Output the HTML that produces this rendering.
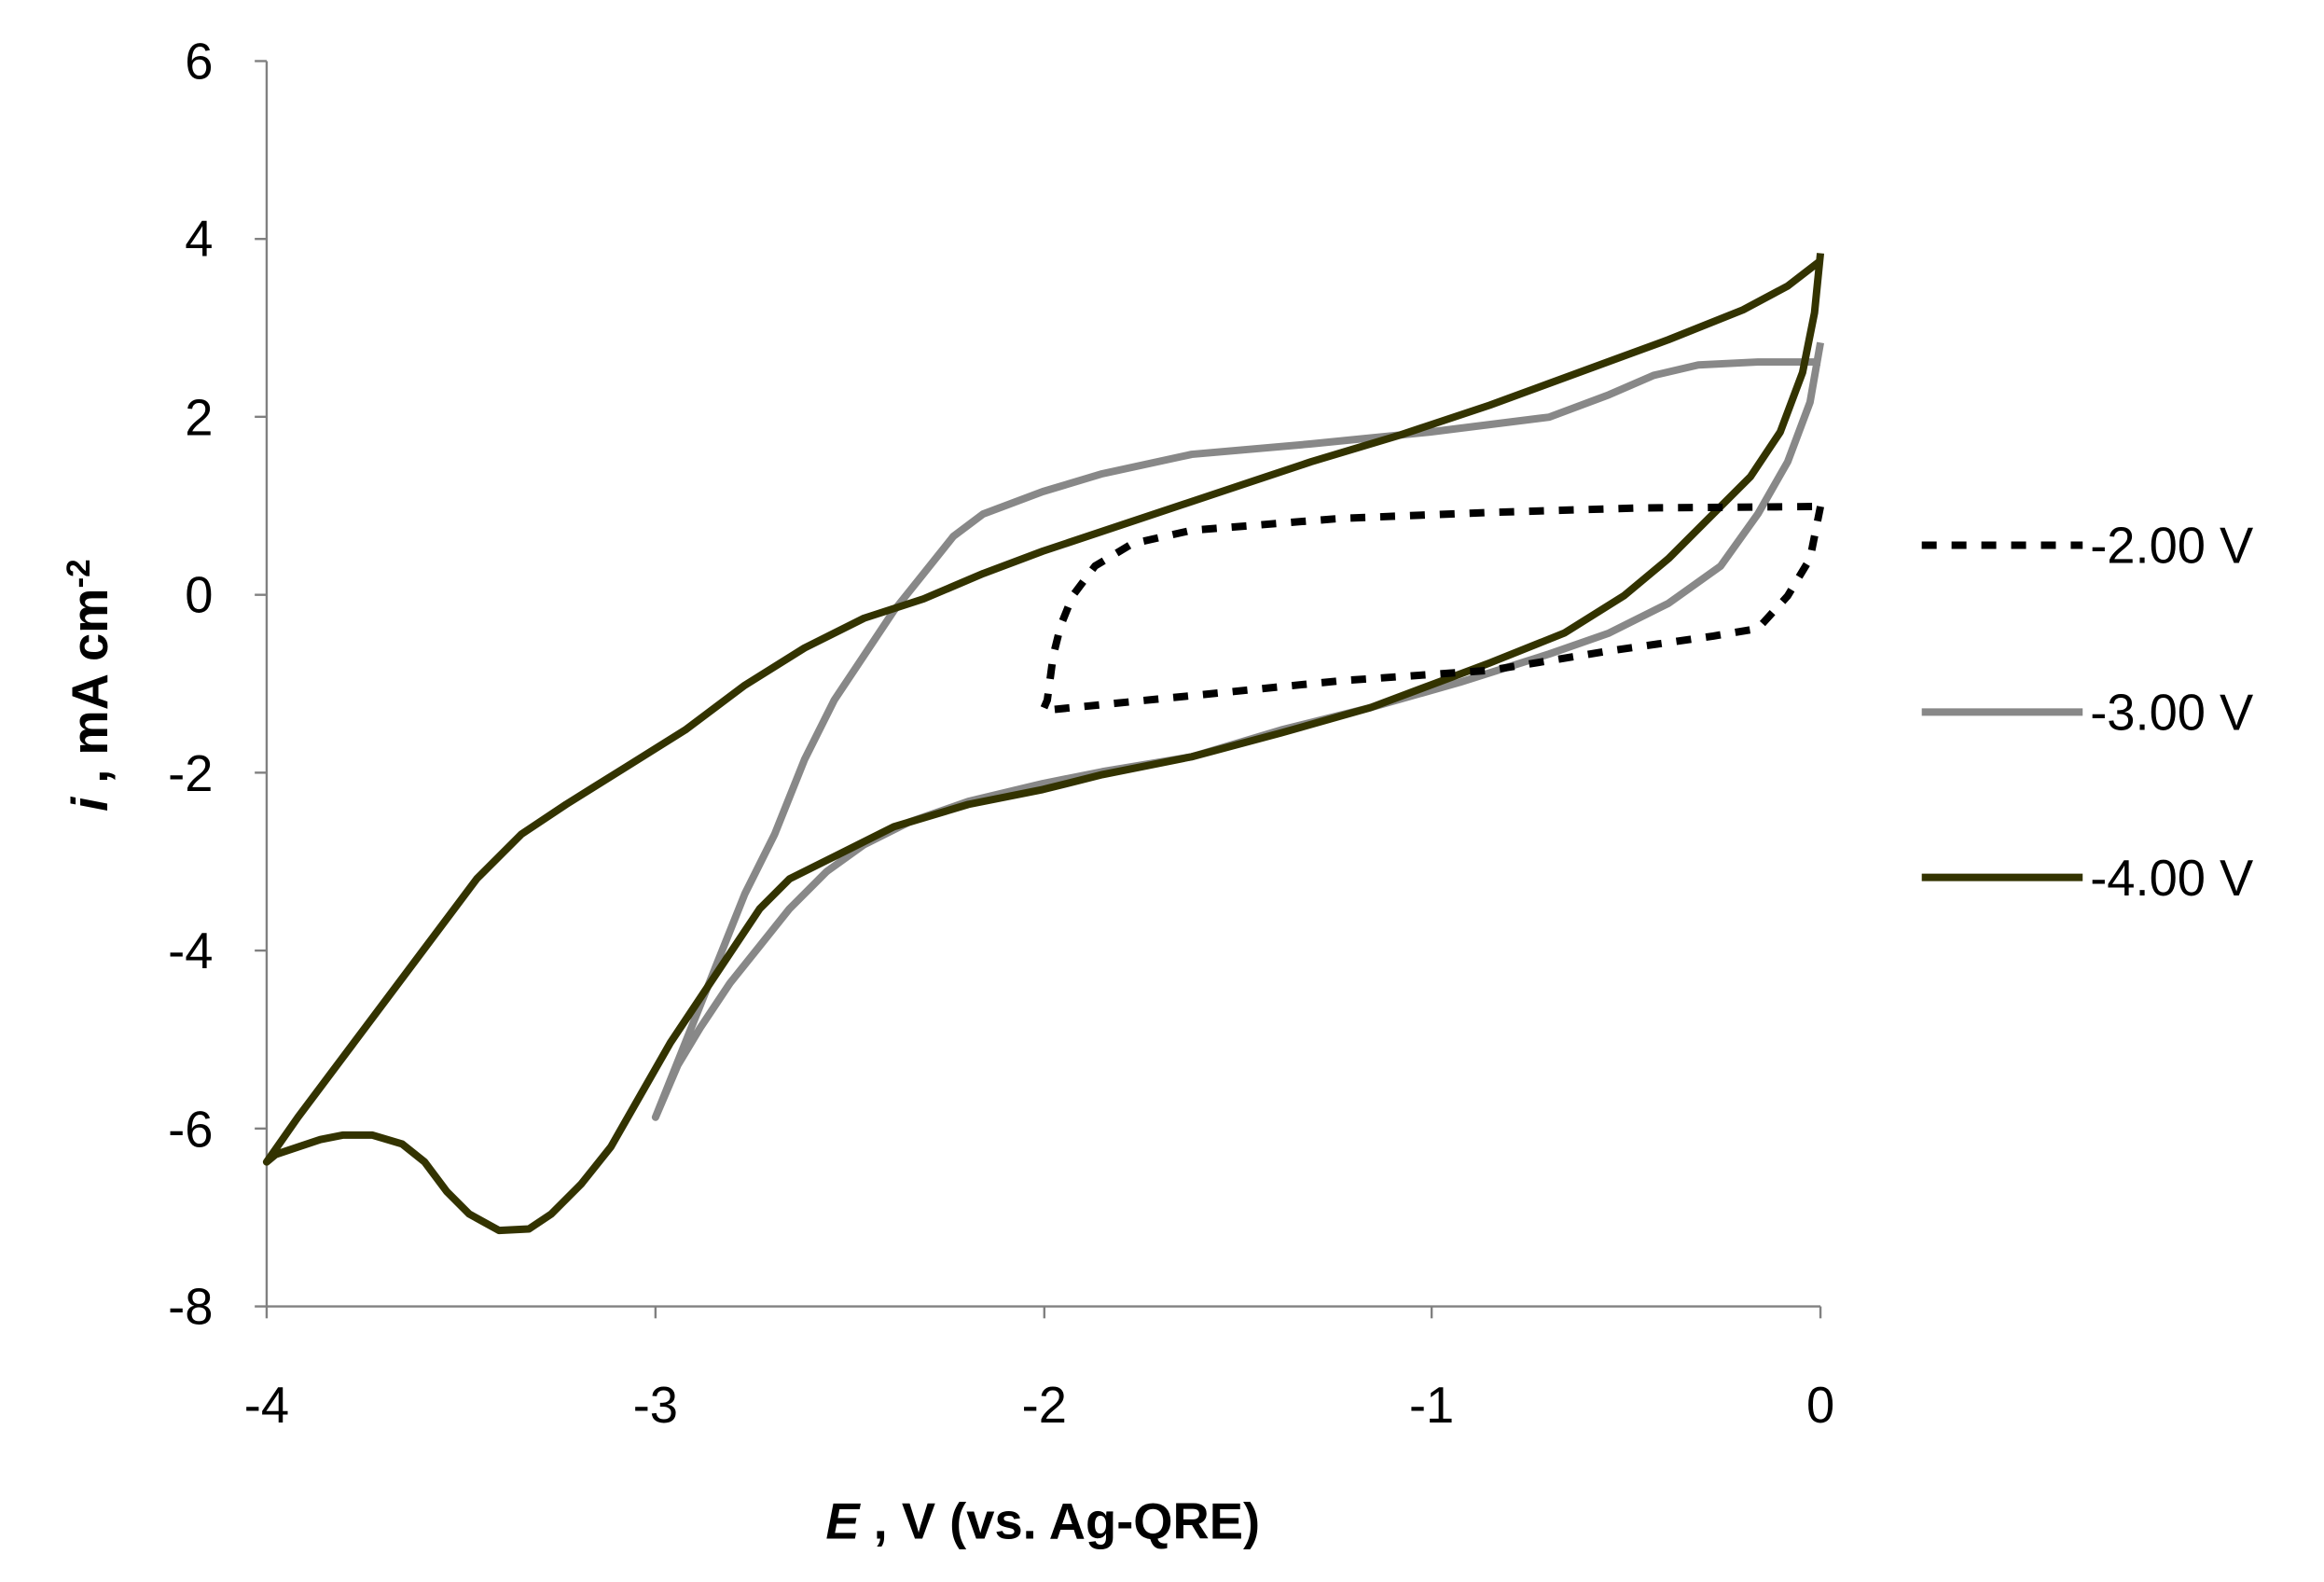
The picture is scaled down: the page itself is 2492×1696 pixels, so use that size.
<!DOCTYPE html>
<html><head><style>html,body{margin:0;padding:0;background:#fff}svg{display:block}</style></head><body>
<svg width="2492" height="1696" viewBox="0 0 1560 1062" preserveAspectRatio="none" xmlns="http://www.w3.org/2000/svg" font-family="Liberation Sans, sans-serif">
<g stroke="#808080" stroke-width="1.5" fill="none">
<line x1="179" y1="41" x2="179" y2="877"/>
<line x1="179" y1="877" x2="1222" y2="877"/>
<line x1="171" y1="41" x2="179" y2="41"/><line x1="171" y1="160.4" x2="179" y2="160.4"/><line x1="171" y1="279.8" x2="179" y2="279.8"/><line x1="171" y1="399.3" x2="179" y2="399.3"/><line x1="171" y1="518.7" x2="179" y2="518.7"/><line x1="171" y1="638.1" x2="179" y2="638.1"/><line x1="171" y1="757.6" x2="179" y2="757.6"/><line x1="171" y1="877" x2="179" y2="877"/>
<line x1="179" y1="877" x2="179" y2="885"/><line x1="440" y1="877" x2="440" y2="885"/><line x1="701" y1="877" x2="701" y2="885"/><line x1="961" y1="877" x2="961" y2="885"/><line x1="1222" y1="877" x2="1222" y2="885"/>
</g>
<g font-size="34" text-anchor="end" fill="#000">
<text x="143" y="53">6</text><text x="143" y="172">4</text><text x="143" y="292">2</text><text x="143" y="411">0</text><text x="143" y="531">-2</text><text x="143" y="650">-4</text><text x="143" y="770">-6</text><text x="143" y="889">-8</text>
</g>
<g font-size="34" text-anchor="middle" fill="#000">
<text x="179" y="955">-4</text><text x="440" y="955">-3</text><text x="701" y="955">-2</text><text x="961" y="955">-1</text><text x="1222" y="955">0</text>
</g>
<text x="700" y="1033" font-size="34" font-weight="bold" text-anchor="middle"><tspan font-style="italic">E</tspan> , V (vs. Ag-QRE)</text>
<text transform="translate(72,460) rotate(-90)" font-size="34" font-weight="bold" text-anchor="middle"><tspan font-style="italic">i</tspan> , mA cm<tspan font-size="22" dy="-12">-2</tspan></text>
<g fill="none" stroke-linejoin="round" stroke-width="5">
<polyline stroke="#888" points="1222,230 1215,270 1200,310 1180,345 1155,380 1120,405 1080,425 1040,439 980,458 920,475 860,490 800,508 740,518 700,526 650,538 610,552 580,567 555,585 530,610 510,635 490,660 470,690 455,715 440,750 460,700 480,650 500,600 520,560 540,510 560,470 580,440 600,410 620,385 640,360 660,345 700,330 740,318 800,305 880,298 960,290 1040,280 1080,265 1110,252 1140,245 1180,243 1222,243"/>
<polyline stroke="#333300" points="1222,170 1218,210 1210,250 1195,290 1175,320 1150,345 1120,375 1090,400 1050,425 1000,445 960,460 920,475 860,492 800,508 740,520 700,530 650,540 600,555 560,575 530,590 510,610 490,640 470,670 450,700 430,735 410,770 390,795 370,815 355,825 335,826 315,815 300,800 285,780 270,768 250,762 230,762 215,765 200,770 185,775 179,780 200,750 230,710 260,670 290,630 320,590 350,560 380,540 420,515 460,490 500,460 540,435 580,415 620,402 660,385 700,370 760,350 820,330 880,310 940,292 1000,272 1060,250 1120,228 1170,208 1200,192 1222,175"/>
<polyline stroke="#000" stroke-dasharray="10,10" points="1222,340 1215,375 1200,400 1180,422 1150,427 1080,437 1000,450 900,457 800,467 720,475 700,477 703,470 707,440 712,420 720,400 735,380 760,365 800,356 900,348 1000,344 1100,341 1222,340"/>
<line x1="1290" y1="366" x2="1398" y2="366" stroke="#000" stroke-dasharray="10,10"/>
<line x1="1290" y1="478" x2="1398" y2="478" stroke="#888"/>
<line x1="1290" y1="589" x2="1398" y2="589" stroke="#333300"/>
</g>
<g font-size="34" fill="#000">
<text x="1403" y="378">-2.00 V</text><text x="1403" y="490">-3.00 V</text><text x="1403" y="601">-4.00 V</text>
</g>
</svg>
</body></html>
